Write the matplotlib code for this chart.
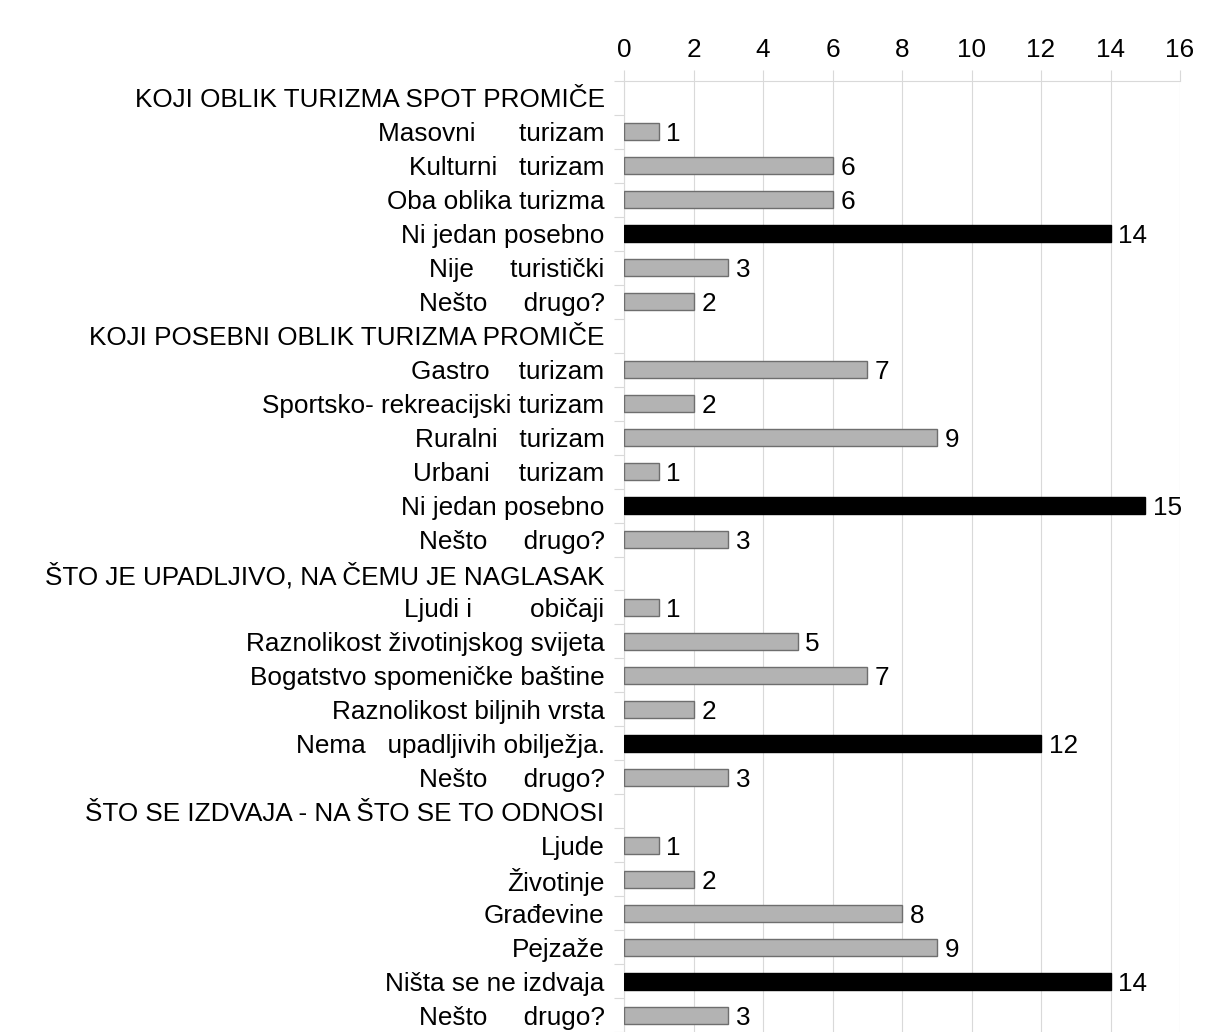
import matplotlib
matplotlib.use("Agg")
import matplotlib.pyplot as plt
import numpy as np

plt.rcParams['font.family'] = ['Liberation Sans', 'DejaVu Sans']

# kategorije (None = naslov skupine, bez stupca)
labels = [
    "KOJI OBLIK TURIZMA SPOT PROMIČE",
    "Masovni      turizam",
    "Kulturni   turizam",
    "Oba oblika turizma",
    "Ni jedan posebno",
    "Nije     turistički",
    "Nešto     drugo?",
    "KOJI POSEBNI OBLIK TURIZMA PROMIČE",
    "Gastro    turizam",
    "Sportsko- rekreacijski turizam",
    "Ruralni   turizam",
    "Urbani    turizam",
    "Ni jedan posebno",
    "Nešto     drugo?",
    "ŠTO JE UPADLJIVO, NA ČEMU JE NAGLASAK",
    "Ljudi i        običaji",
    "Raznolikost životinjskog svijeta",
    "Bogatstvo spomeničke baštine",
    "Raznolikost biljnih vrsta",
    "Nema   upadljivih obilježja.",
    "Nešto     drugo?",
    "ŠTO SE IZDVAJA - NA ŠTO SE TO ODNOSI",
    "Ljude",
    "Životinje",
    "Građevine",
    "Pejzaže",
    "Ništa se ne izdvaja",
    "Nešto     drugo?",
]
values = [None, 1, 6, 6, 14, 3, 2,
          None, 7, 2, 9, 1, 15, 3,
          None, 1, 5, 7, 2, 12, 3,
          None, 1, 2, 8, 9, 14, 3]
# crni stupci = "nijedan / ništa"
highlight = [4, 12, 19, 26]

FS = 18.8

fig = plt.figure(figsize=(12.09, 10.32), dpi=100)
ax = fig.add_axes([624/1209, 0.0, (1180-624)/1209, 1 - 81/1032])

y = np.arange(len(labels))
vals = np.array([np.nan if v is None else v for v in values], dtype=float)
colors = ['black' if i in highlight else '#b3b3b3' for i in range(len(labels))]
edges = ['black' if i in highlight else '#6e6e6e' for i in range(len(labels))]

bars = ax.barh(y, np.nan_to_num(vals), height=0.5, color=colors,
               edgecolor=edges, linewidth=1, zorder=3)
for i, b in enumerate(bars):
    if values[i] is None:
        b.set_visible(False)
    else:
        ax.text(b.get_width() + 0.22, b.get_y() + b.get_height()/2,
                str(values[i]), va='center_baseline', ha='left', fontsize=FS)

ax.set_xlim(0, 16)
ax.set_ylim(len(labels) - 0.5, -0.5)
ax.set_xticks(np.arange(0, 17, 2))
ax.xaxis.tick_top()
ax.tick_params(axis='x', length=8, color='#d9d9d9', width=0.8, labelsize=FS, pad=6)
ax.set_yticks(y)
ax.set_yticklabels(labels, fontsize=FS)
ax.set_yticks(np.arange(-0.5, len(labels), 1), minor=True)
ax.tick_params(axis='y', which='major', length=0, pad=14)
ax.tick_params(axis='y', which='minor', length=7, color='#d9d9d9', width=0.8)
ax.grid(axis='x', color='#d9d9d9', linewidth=0.8, zorder=0)

for s in ['right', 'bottom']:
    ax.spines[s].set_visible(False)
ax.spines['top'].set_color('#d9d9d9')
ax.spines['left'].set_color('#d9d9d9')
ax.spines['top'].set_linewidth(0.8)
ax.spines['left'].set_linewidth(0.8)

fig.savefig("out.png", dpi=100)
